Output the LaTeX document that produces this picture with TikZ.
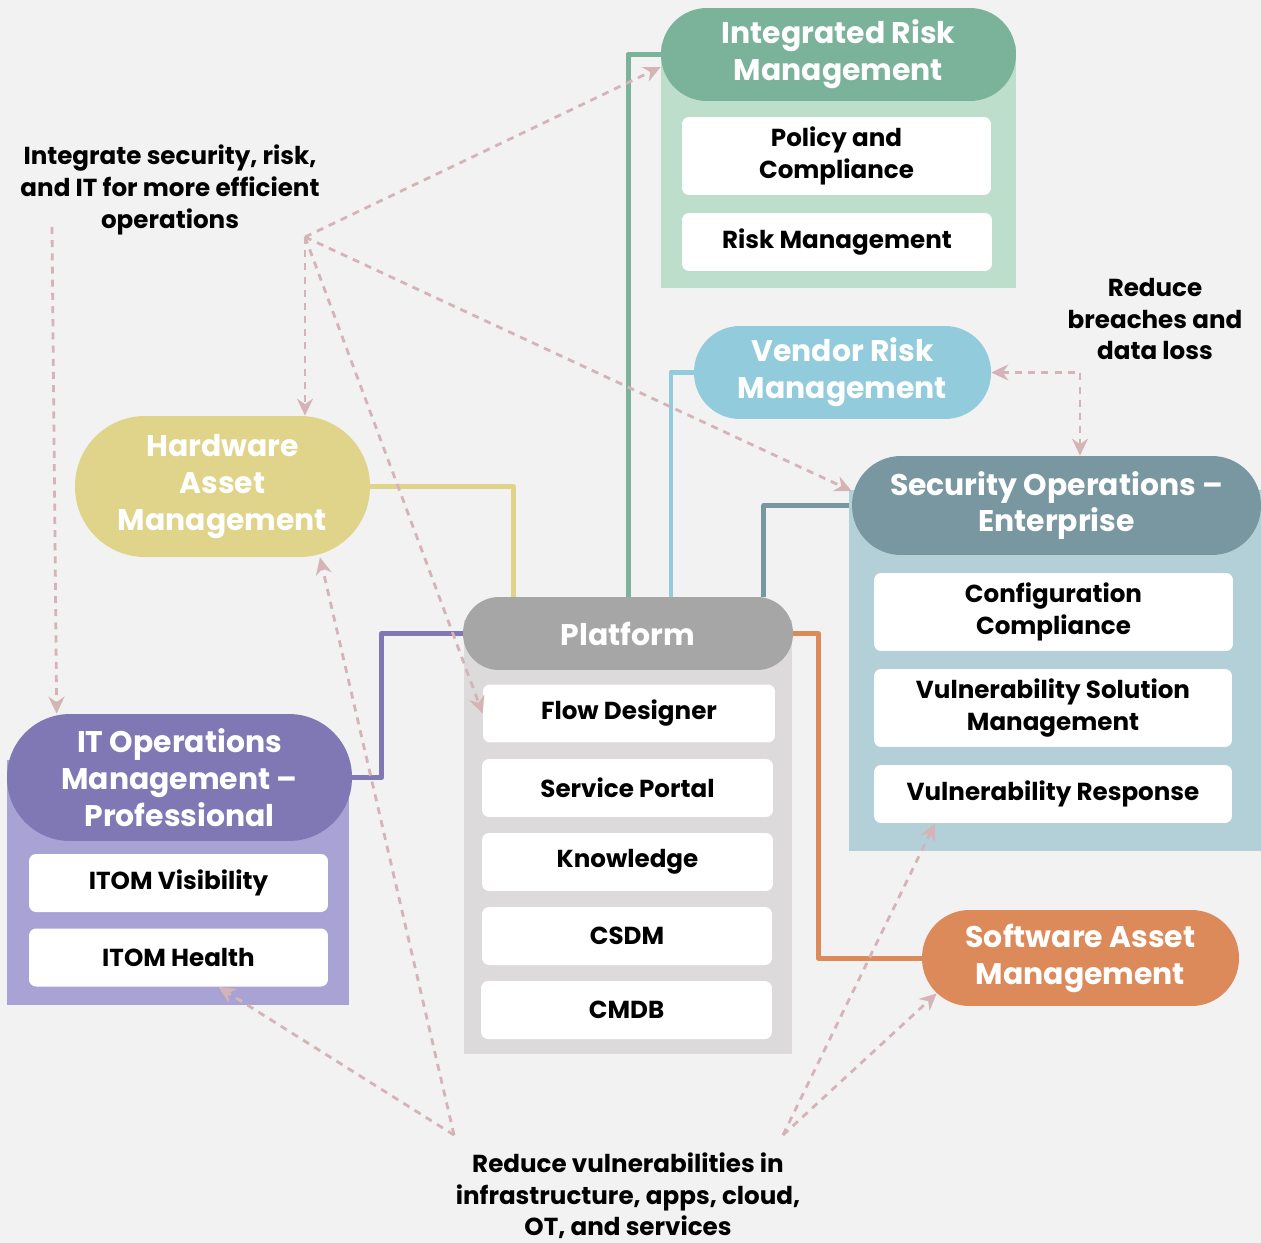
\documentclass[tikz,border=0pt]{standalone}
\usepackage{fontspec}
\setmainfont{Poppins}
\usetikzlibrary{arrows.meta, backgrounds}

% cores
\definecolor{fundo}{HTML}{F2F2F2}
\definecolor{verde}{HTML}{7BB39A}
\definecolor{verdeclaro}{HTML}{BDDECB}
\definecolor{azul}{HTML}{92CBDB}
\definecolor{ardosia}{HTML}{7897A0}
\definecolor{azulclaro}{HTML}{B3D0D8}
\definecolor{amarelo}{HTML}{E0D38A}
\definecolor{cinza}{HTML}{A6A6A6}
\definecolor{cinzaclaro}{HTML}{DCDADB}
\definecolor{roxo}{HTML}{7F78B4}
\definecolor{roxoclaro}{HTML}{A8A3D4}
\definecolor{laranja}{HTML}{DD8A5B}
\definecolor{rosa}{HTML}{D5B4B8}

\tikzset{ponta/.tip={Stealth[length=3.4mm, width=3.2mm]}}

\begin{document}
\begin{tikzpicture}[x=0.02cm, y=-0.02cm,
    painel/.style={inner sep=0pt},
    cabeca/.style={inner sep=0pt, text=white, align=center, font=\bfseries\fontsize{17}{21}\selectfont},
    item/.style={fill=white, rounded corners=4pt, inner sep=0pt, align=center, minimum height=1.16cm, font=\bfseries\fontsize{14}{18}\selectfont},
    nota/.style={align=center, font=\bfseries\fontsize{14}{18}\selectfont},
    liga/.style={line width=0.1cm, line join=round},
    seta/.style={draw=rosa, line width=1.6pt, dash pattern=on 4pt off 3.5pt, -ponta}]
    \useasboundingbox (0,0) rectangle (1261,1243);

    % Integrated Risk Management
    \node[painel, fill=verdeclaro, minimum width=7.1cm, minimum height=4.86cm] (irm) at (838.5,166.5) {};
    \node[cabeca, fill=verde, minimum width=7.1cm, minimum height=1.86cm, rounded corners=0.92cm] (irmcab) at (838.5,54.5) {Integrated Risk\\Management};
    \node[item, minimum width=6.18cm, minimum height=1.56cm] (politica) at (836.5,156) {Policy and\\Compliance};
    \node[item, minimum width=6.2cm] (risco) at (837,242) {Risk Management};

    % Vendor Risk Management
    \node[cabeca, fill=azul, minimum width=5.94cm, minimum height=1.86cm, rounded corners=0.92cm] (fornecedor) at (842.5,372.5) {Vendor Risk\\Management};

    % Security Operations
    \node[painel, fill=azulclaro, minimum width=8.24cm, minimum height=7.22cm] (secops) at (1055,670.5) {};
    \node[cabeca, fill=ardosia, minimum width=8.18cm, minimum height=1.98cm, rounded corners=0.98cm] (secopscab) at (1056.5,505.5) {Security Operations –\\Enterprise};
    \node[item, minimum width=7.18cm, minimum height=1.56cm] (config) at (1053.5,612) {Configuration\\Compliance};
    \node[item, minimum width=7.16cm, minimum height=1.56cm] (vsm) at (1053,708) {Vulnerability Solution\\Management};
    \node[item, minimum width=7.16cm] (vresp) at (1053,794) {Vulnerability Response};

    % Hardware Asset Management
    \node[cabeca, fill=amarelo, minimum width=5.9cm, minimum height=2.82cm, rounded corners=1.4cm] (hardware) at (222.5,486.5) {Hardware\\Asset\\Management};

    % Platform
    \node[painel, fill=cinzaclaro, minimum width=6.56cm, minimum height=8.68cm] (plat) at (628,837) {};
    \node[cabeca, fill=cinza, minimum width=6.6cm, minimum height=1.46cm, rounded corners=0.72cm] (platcab) at (628,633.5) {Platform};
    \node[item, minimum width=5.84cm] (fluxo) at (629,713.5) {Flow Designer};
    \node[item, minimum width=5.82cm] (portal) at (627.5,788) {Service Portal};
    \node[item, minimum width=5.82cm] (conhec) at (627.5,862) {Knowledge};
    \node[item, minimum width=5.8cm] (csdm) at (627,936) {CSDM};
    \node[item, minimum width=5.82cm] (cmdb) at (626.5,1010) {CMDB};

    % IT Operations Management
    \node[painel, fill=roxoclaro, minimum width=6.84cm, minimum height=4.9cm] (itom) at (178,882.5) {};
    \node[cabeca, fill=roxo, minimum width=6.9cm, minimum height=2.54cm, rounded corners=1.26cm] (itomcab) at (179.5,777.5) {IT Operations\\Management –\\Professional};
    \node[item, minimum width=5.98cm] (visib) at (178.5,883) {ITOM Visibility};
    \node[item, minimum width=5.98cm] (saude) at (178.5,957.5) {ITOM Health};

    % Software Asset Management
    \node[cabeca, fill=laranja, minimum width=6.34cm, minimum height=1.92cm, rounded corners=0.95cm] (software) at (1080.5,958) {Software Asset\\Management};

    % Notas
    \node[nota] (integrar) at (170,190) {Integrate security, risk,\\and IT for more efficient\\operations};
    \node[nota] (brechas) at (1155,319) {Reduce\\breaches and\\data loss};
    \node[nota] (reduzir) at (628,1196) {Reduce vulnerabilities in\\infrastructure, apps, cloud,\\OT, and services};

    \coordinate (origem) at (305,237);
    \coordinate (origem2) at (52,227);
    \coordinate (base1) at (454,1135);
    \coordinate (base2) at (783,1135);

    % Ligações ao Platform
    \begin{scope}[on background layer]
        \fill[fundo] (0,0) rectangle (1261,1243);
        \draw[liga, verde] (irmcab.west) -| (platcab.north);
        \draw[liga, azul] (fornecedor.west) -| ([xshift=0.86cm]platcab.north);
        \draw[liga, ardosia] (secopscab.west) -| ([xshift=2.72cm]platcab.north);
        \draw[liga, amarelo] (hardware.east) -| ([xshift=-2.3cm]platcab.north);
        \draw[liga, roxo] (platcab.west) -- ++(-1.62cm,0) |- (itomcab.east);
        \draw[liga, laranja] (platcab.east) -- ++(0.5cm,0) |- (software.west);
    \end{scope}

    % Setas tracejadas
    \draw[seta] (origem) -- ([yshift=-0.25cm]irmcab.west);
    \draw[seta] (origem) -- (origem |- hardware.north);
    \draw[seta] (origem) -- (fluxo.west);
    \draw[seta] (origem) -- ([yshift=0.29cm]secopscab.west);
    \draw[seta] (origem2) -- ([xshift=1cm]itomcab.north west);
    \draw[seta, ponta-ponta] (fornecedor.east) -| ([xshift=0.47cm]secopscab.north);
    \draw[seta] (base1) -- ([xshift=0.8cm]saude.south);
    \draw[seta] (base1) -- ([xshift=1.95cm]hardware.south);
    \draw[seta] (base2) -- ([xshift=-2.36cm]vresp.south);
    \draw[seta] (base2) -- ([shift={(0.3cm,0.26cm)}]software.south west);
\end{tikzpicture}
\end{document}
